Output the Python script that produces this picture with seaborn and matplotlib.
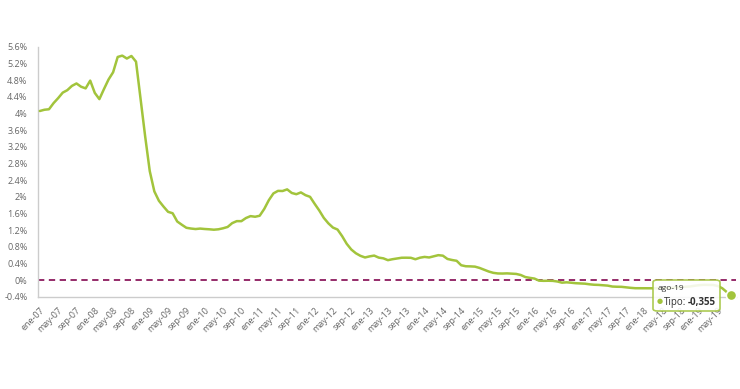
import matplotlib
matplotlib.use("Agg")
import matplotlib.pyplot as plt
from matplotlib.patches import FancyBboxPatch
from matplotlib.ticker import FuncFormatter, MultipleLocator
import numpy as np
import pandas as pd
import seaborn as sns

# Monthly values (%), ene-07 .. ago-19
tipo_2007 = [4.064, 4.094, 4.106, 4.253, 4.373, 4.505, 4.564, 4.666, 4.725, 4.647, 4.607, 4.793]
tipo_2008 = [4.498, 4.349, 4.590, 4.820, 4.994, 5.361, 5.393, 5.323, 5.384, 5.248, 4.350, 3.452]
tipo_2009 = [2.622, 2.135, 1.909, 1.771, 1.644, 1.610, 1.412, 1.334, 1.261, 1.243, 1.231, 1.242]
tipo_2010 = [1.232, 1.225, 1.215, 1.225, 1.249, 1.281, 1.373, 1.421, 1.420, 1.495, 1.541, 1.526]
tipo_2011 = [1.550, 1.714, 1.924, 2.086, 2.147, 2.144, 2.183, 2.097, 2.067, 2.110, 2.044, 2.004]
tipo_2012 = [1.837, 1.678, 1.499, 1.368, 1.266, 1.219, 1.061, 0.877, 0.740, 0.650, 0.588, 0.549]
tipo_2013 = [0.575, 0.594, 0.545, 0.528, 0.484, 0.507, 0.525, 0.542, 0.543, 0.541, 0.506, 0.543]
tipo_2014 = [0.562, 0.549, 0.577, 0.604, 0.592, 0.513, 0.488, 0.469, 0.362, 0.338, 0.335, 0.329]
tipo_2015 = [0.298, 0.255, 0.212, 0.180, 0.165, 0.163, 0.167, 0.161, 0.154, 0.128, 0.079, 0.059]
tipo_2016 = [0.042, -0.008, -0.012, -0.010, -0.013, -0.028, -0.056, -0.048, -0.057, -0.069, -0.074, -0.080]
tipo_2017 = [-0.095, -0.106, -0.110, -0.119, -0.127, -0.149, -0.154, -0.156, -0.168, -0.180, -0.189, -0.190]
tipo_2018 = [-0.189, -0.191, -0.191, -0.190, -0.188, -0.181, -0.180, -0.169, -0.166, -0.154, -0.147, -0.129]
tipo_2019 = [-0.116, -0.108, -0.109, -0.112, -0.134, -0.190, -0.283, -0.355]

meses = ["ene", "feb", "mar", "abr", "may", "jun", "jul", "ago", "sep", "oct", "nov", "dic"]
years = range(2007, 2020)

tipo = (tipo_2007 + tipo_2008 + tipo_2009 + tipo_2010 + tipo_2011 + tipo_2012 + tipo_2013
        + tipo_2014 + tipo_2015 + tipo_2016 + tipo_2017 + tipo_2018 + tipo_2019)
labels = [f"{m}-{str(y)[2:]}" for y in years for m in meses][:len(tipo)]

df = pd.DataFrame({"idx": np.arange(len(tipo)), "Tipo": tipo, "mes": labels})

green = "#a2c43c"
grey = "#666666"

sns.set_style("white")
plt.rcParams["font.family"] = ["Open Sans", "DejaVu Sans"]

fig = plt.figure(figsize=(7.4, 3.89), dpi=100)
ax = fig.add_axes([38 / 740, 1 - 297 / 389, 698 / 740, 250 / 389])

sns.lineplot(data=df, x="idx", y="Tipo", color=green, linewidth=1.8, ax=ax, zorder=3)
ax.axhline(0, color="#8c1a5e", linestyle=(0, (3.5, 2.5)), linewidth=1.3, zorder=2)

ax.set_ylim(-0.4, 5.6)
ax.set_xlim(-0.4, 152)
ax.yaxis.set_major_locator(MultipleLocator(0.4))
ax.yaxis.set_major_formatter(FuncFormatter(lambda v, p: f"{v:.1f}".rstrip("0").rstrip(".").replace("-0", "-0") + "%"))

tick_pos = df["idx"][::4]
ax.set_xticks(tick_pos)
ax.set_xticklabels(df["mes"][::4], rotation=45, ha="right", rotation_mode="anchor")

ax.set_xlabel("")
ax.set_ylabel("")
for s in ["top", "right"]:
    ax.spines[s].set_visible(False)
for s in ["left", "bottom"]:
    ax.spines[s].set_color("#cccccc")
    ax.spines[s].set_linewidth(1)
ax.tick_params(axis="both", colors="#cccccc", labelcolor=grey, labelsize=6.5,
               length=4, width=1, direction="out")
ax.tick_params(axis="x", pad=2)

# last point marker
last = df.iloc[-1]
ax.scatter([last["idx"]], [last["Tipo"]], s=55, color=green, edgecolor="white",
           linewidth=1.2, zorder=5, clip_on=False)

# tooltip
box = FancyBboxPatch((653 / 740, 1 - 311 / 389), 67 / 740, 31 / 389,
                     boxstyle="round,pad=0,rounding_size=0.006",
                     transform=fig.transFigure, facecolor="white", alpha=0.88,
                     edgecolor=green, linewidth=1.2, zorder=10)
fig.patches.append(box)
fig.text(658 / 740, 1 - 289 / 389, "ago-19", fontsize=6, color="#333333", va="center", zorder=11)
fig.text(657 / 740, 1 - 302 / 389, "●", fontsize=5, color=green, va="center", zorder=11)
fig.text(664 / 740, 1 - 302 / 389, "Tipo:", fontsize=7, color="#333333", va="center", zorder=11)
fig.text(688 / 740, 1 - 302 / 389, "-0,355", fontsize=7, color="#333333", va="center",
         fontweight="bold", zorder=11)

fig.savefig("out.png", dpi=100)
